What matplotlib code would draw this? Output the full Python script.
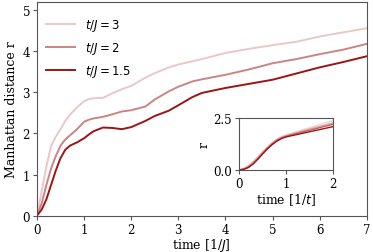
import numpy as np
import matplotlib
matplotlib.use("Agg")
import matplotlib.pyplot as plt

plt.rcParams['font.family'] = ['DejaVu Serif']
plt.rcParams['mathtext.fontset'] = 'dejavusans'
plt.rcParams['font.size'] = 8.5

# main panel: Manhattan distance vs time, three t/J values
t_main = [0, 0.1, 0.2, 0.3, 0.4, 0.5, 0.6, 0.7, 0.85, 1.0, 1.1, 1.2, 1.4, 1.6, 1.8, 2.0,
          2.3, 2.5, 2.8, 3.0, 3.3, 3.5, 4.0, 4.5, 5.0, 5.5, 6.0, 6.5, 7.0]
r_tj3 = [0, 0.6, 1.2, 1.7, 1.92, 2.1, 2.3, 2.45, 2.63, 2.78, 2.83, 2.85, 2.86, 2.97, 3.07, 3.15,
         3.35, 3.46, 3.6, 3.67, 3.75, 3.8, 3.95, 4.05, 4.14, 4.22, 4.35, 4.45, 4.55]
r_tj2 = [0, 0.3, 0.75, 1.15, 1.45, 1.7, 1.85, 1.95, 2.1, 2.28, 2.33, 2.36, 2.4, 2.46, 2.53, 2.56,
         2.65, 2.82, 3.02, 3.13, 3.26, 3.31, 3.42, 3.55, 3.7, 3.8, 3.92, 4.03, 4.17]
r_tj15 = [0, 0.15, 0.4, 0.75, 1.1, 1.4, 1.6, 1.7, 1.78, 1.88, 1.97, 2.05, 2.14, 2.13, 2.1, 2.15,
          2.3, 2.42, 2.55, 2.68, 2.88, 2.98, 3.1, 3.2, 3.3, 3.45, 3.6, 3.73, 3.87]
labels = [r'$t/J = 3$', r'$t/J = 2$', r'$t/J = 1.5$']
colors = ['#ecc7c7', '#c98585', '#9e1414']

# inset: early-time curves
t_ins = [0, 0.1, 0.2, 0.3, 0.4, 0.5, 0.6, 0.7, 0.8, 0.9, 1.0, 1.2, 1.4, 1.6, 1.8, 2.0]
r_ins = [
    [0, 0.08, 0.22, 0.42, 0.65, 0.9, 1.13, 1.33, 1.5, 1.62, 1.7, 1.84, 1.98, 2.12, 2.26, 2.40],
    [0, 0.06, 0.18, 0.37, 0.6, 0.85, 1.08, 1.29, 1.46, 1.58, 1.66, 1.79, 1.92, 2.04, 2.16, 2.29],
    [0, 0.04, 0.14, 0.32, 0.55, 0.8, 1.04, 1.25, 1.42, 1.55, 1.63, 1.75, 1.87, 1.98, 2.10, 2.21],
    [0, 0.03, 0.12, 0.29, 0.52, 0.77, 1.01, 1.22, 1.39, 1.52, 1.6, 1.7, 1.8, 1.9, 2.0, 2.10],
]
ins_colors = ['#efd3d3', '#d9a3a3', '#bf5f5f', '#9e1414']

fig = plt.figure(figsize=(3.73, 2.53), dpi=100)
ax = fig.add_axes([37 / 373, 1 - 216.7 / 253, (366.7 - 37) / 373, (216.7 - 3.3) / 253])
for r, lab, c in zip([r_tj3, r_tj2, r_tj15], labels, colors):
    ax.plot(t_main, r, color=c, lw=1.4, label=lab)
ax.set_xlim(0, 7)
ax.set_ylim(0, 5.18)
ax.set_xlabel(r'time [1/$J$]', labelpad=0, fontsize=9)
ax.set_ylabel('Manhattan distance r', labelpad=3, fontsize=9)
ax.legend(loc='upper left', bbox_to_anchor=(0, 0.975), frameon=False, handlelength=2.4,
          handletextpad=0.9, fontsize=8.5, borderaxespad=0.4, labelspacing=0.6)

ins = fig.add_axes([239 / 373, 1 - 171 / 253, (333.3 - 239) / 373, (171 - 119.3) / 253])
for r, c in zip(r_ins, ins_colors):
    ins.plot(t_ins, r, color=c, lw=1.0)
ins.set_xlim(0, 2)
ins.set_ylim(0, 2.5)
ins.set_yticks([0, 2.5])
ins.set_xlabel(r'time [1/$t$]', labelpad=1, fontsize=9)
ins.set_ylabel('r', labelpad=2, fontsize=9)

for a in (ax, ins):
    for s in a.spines.values():
        s.set_color('#555555')
    a.tick_params(colors='#555555', labelcolor='black', length=3, pad=2)

fig.savefig('out.png', dpi=100)
